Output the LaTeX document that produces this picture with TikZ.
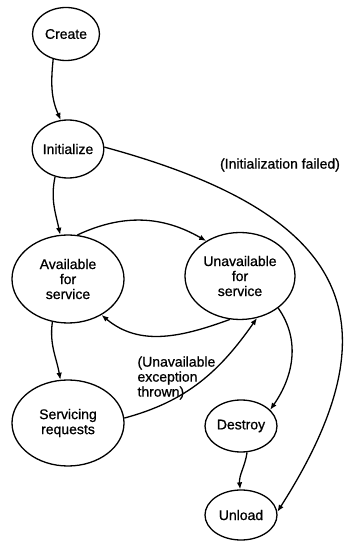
\documentclass[tikz,border=0pt]{standalone}
\usepackage{fontspec}
\setmainfont{Liberation Sans}[FakeBold=0.8]
\usetikzlibrary{shapes.geometric,arrows.meta}

\begin{document}
\begin{tikzpicture}[
  x=1pt, y=1pt,
  state/.style={ellipse, draw=black, line width=1.3pt, inner sep=0pt, align=center, font=\fontsize{14}{15}\selectfont},
  trans/.style={line width=1.3pt, draw=black, -{Latex[length=7pt,width=5.5pt]}},
  note/.style={align=left, font=\fontsize{14}{15}\selectfont}
]
  \useasboundingbox (0,0) rectangle (347,542);

  % Estados del ciclo de vida
  \node[state, minimum width=67pt, minimum height=53pt] (create) at (66,508) {Create};
  \node[state, minimum width=67pt, minimum height=58pt] (init) at (68,393) {Initialize};
  \node[state, minimum width=112pt, minimum height=88pt] (avail) at (68,263) {Available\\for\\service};
  \node[state, minimum width=110pt, minimum height=87pt] (unavail) at (240,266) {Unavailable\\for\\service};
  \node[state, minimum width=112pt, minimum height=86pt] (serv) at (68,119) {Servicing\\requests};
  \node[state, minimum width=72pt, minimum height=52pt] (destroy) at (241,116) {Destroy};
  \node[state, minimum width=72pt, minimum height=50pt] (unload) at (241,27) {Unload};

  % Transiciones
  \draw[trans] (create.243) to[out=264, in=114] (init.104);
  \draw[trans] (init.245) to[out=258, in=102] (avail.100);
  \draw[trans] (avail.78) to[out=25, in=150] (unavail.134);
  \draw[trans] (unavail.257) to[out=200, in=-40] (avail.313);
  \draw[trans] (avail.250) to[out=262, in=100] (serv.100);
  \draw[trans] (serv.5) to[out=15, in=235] (unavail.292);
  \draw[trans] (unavail.320) to[out=-55, in=55] (destroy.29);
  \draw[trans] (destroy.283) to[out=262, in=95] (unload.92);
  \draw[trans] (init.3) .. controls (347,329) and (401,224) .. (unload.5);

  % Etiquetas de las transiciones
  \node[note] (failed) at (280,377) {(Initialization failed)};
  \node[note, anchor=west] (thrown) at (134,164) {(Unavailable\\exception\\thrown)};

\end{tikzpicture}
\end{document}
